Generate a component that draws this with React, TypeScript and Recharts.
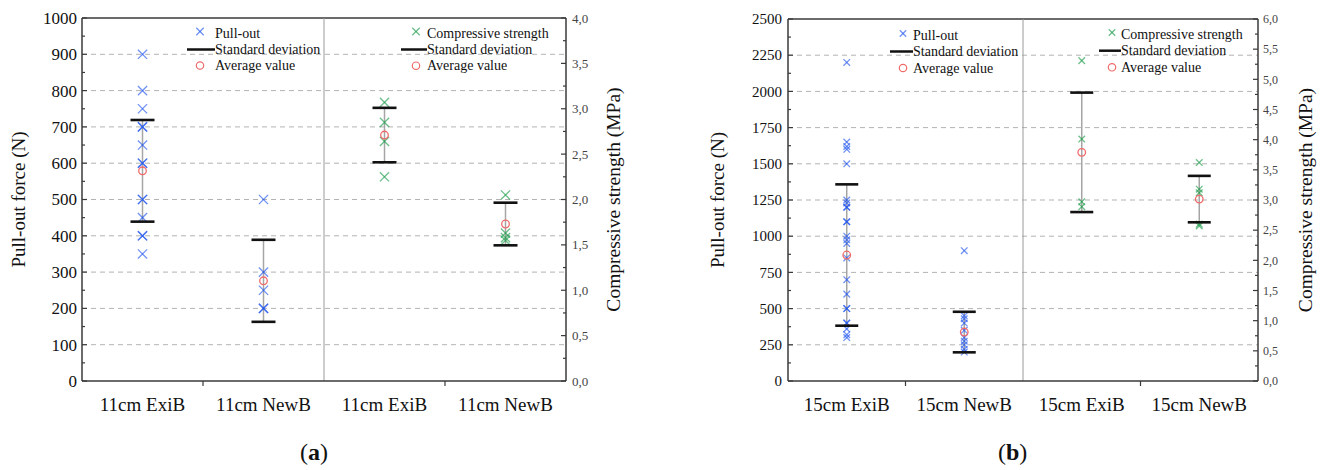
import React from "react";
import { ScatterChart, Scatter, XAxis, YAxis, ErrorBar, ReferenceLine, Legend } from "recharts";

const FONT = "'Liberation Serif', 'Times New Roman', Times, serif";
const BLUE = "#2457ee";
const GREEN = "#1f9d4c";
const RED = "#f06a6a";
const AXIS = { stroke: "#3a3a3a", strokeWidth: 1.5 };

// (a) 11 cm anchors
const cats11 = ["11cm ExiB", "11cm NewB", "11cm ExiB", "11cm NewB"];
const pullExiB11 = [900, 800, 750, 700, 700, 650, 600, 600, 500, 500, 450, 400, 400, 350];
const pullNewB11 = [500, 300, 250, 200, 200];
const compExiB11 = [3.07, 2.85, 2.64, 2.25];
const compNewB11 = [2.05, 1.63, 1.58, 1.55];
const pullAvg11 = [579, 276];
const pullSd11 = [140, 113];
const compAvg11 = [2.71, 1.73];
const compSd11 = [0.3, 0.235];
const forceTicks11 = [0, 100, 200, 300, 400, 500, 600, 700, 800, 900, 1000];
const mpaTicks11 = [0, 0.5, 1, 1.5, 2, 2.5, 3, 3.5, 4];

// (b) 15 cm anchors
const cats15 = ["15cm ExiB", "15cm NewB", "15cm ExiB", "15cm NewB"];
const pullExiB15 = [2200, 1650, 1620, 1600, 1500, 1250, 1230, 1200, 1200, 1100, 1100, 1000, 975, 950, 850, 700, 600, 500, 500, 400, 400, 360, 320, 300];
const pullNewB15 = [900, 450, 430, 400, 350, 300, 275, 250, 220, 200];
const compExiB15 = [5.31, 4.01, 2.97, 2.89];
const compNewB15 = [3.62, 3.18, 3.12, 2.6, 2.57];
const pullAvg15 = [870, 338];
const pullSd15 = [488, 140];
const compAvg15 = [3.79, 3.015];
const compSd15 = [0.99, 0.385];
const forceTicks15 = [0, 250, 500, 750, 1000, 1250, 1500, 1750, 2000, 2250, 2500];
const mpaTicks15 = [0, 0.5, 1, 1.5, 2, 2.5, 3, 3.5, 4, 4.5, 5, 5.5, 6];

const legendPull = ["Pull-out", "Standard deviation", "Average value"];
const legendComp = ["Compressive strength", "Standard deviation", "Average value"];

const withMinor = (major: number[]) =>
  major.flatMap((v, i) => (i === 0 ? [v] : [(v + major[i - 1]) / 2, v]));
const isMajor = (v: number, major: number[]) => major.some((m) => Math.abs(m - v) < 1e-6);

const serif = (size: number, color = "#111") => ({ fontFamily: FONT, fontSize: size, fill: color });

const Cross = ({ cx, cy, h, color }: any) => (
  <g stroke={color} strokeWidth={1.3} strokeOpacity={0.65}>
    <line x1={cx - h} y1={cy - h} x2={cx + h} y2={cy + h} />
    <line x1={cx - h} y1={cy + h} x2={cx + h} y2={cy - h} />
  </g>
);

type Cfg = {
  left: number;
  width: number;
  top: number;
  yLeftW: number;
  yRightW: number;
  leftTitleDx: number;
  rightTitleDx: number;
  leftTickFont: number;
  rightTickFont: number;
  leftGap: number;
  rightGap: number;
  mark: number;
  cap: number;
  legendMark: number;
  legends: { symX: number; textX: number; lineX: number; rows: number[] }[];
};

const cfgA: Cfg = {
  left: 0, width: 660, top: 18, yLeftW: 82, yRightW: 94,
  leftTitleDx: 18, rightTitleDx: 47, leftTickFont: 17, rightTickFont: 13,
  leftGap: 5, rightGap: 6,
  mark: 4.6, cap: 12, legendMark: 3.7,
  legends: [
    { symX: 200, textX: 215, lineX: 187, rows: [33, 49.5, 65.5] },
    { symX: 416, textX: 427, lineX: 401, rows: [33, 49.5, 65.7] },
  ],
};

const cfgB: Cfg = {
  left: 660, width: 663, top: 19, yLeftW: 128, yRightW: 65,
  leftTitleDx: 57, rightTitleDx: 47, leftTickFont: 15, rightTickFont: 12,
  leftGap: 6, rightGap: 5,
  mark: 3.3, cap: 11.5, legendMark: 3.2,
  legends: [
    { symX: 243, textX: 253, lineX: 230, rows: [35, 51.5, 68] },
    { symX: 452, textX: 461, lineX: 439, rows: [34, 50.7, 67.3] },
  ],
};

const LegendGroup = ({ g, labels, color, h }: any) => (
  <g>
    <Cross cx={g.symX} cy={g.rows[0] - 1.5} h={h} color={color} />
    <text x={g.textX} y={g.rows[0]} dy="0.33em" style={serif(14)}>{labels[0]}</text>
    <line x1={g.lineX} x2={g.textX} y1={g.rows[1]} y2={g.rows[1]} stroke="#111" strokeWidth={2.5} />
    <text x={g.textX} y={g.rows[1]} dy="0.33em" style={serif(14)}>{labels[1]}</text>
    <circle cx={g.symX} cy={g.rows[2]} r={3.7} fill="none" stroke={RED} strokeWidth={1.2} />
    <text x={g.textX} y={g.rows[2]} dy="0.33em" style={serif(14)}>{labels[2]}</text>
  </g>
);

function Panel({ cats, pull, comp, pullAvg, pullSd, compAvg, compSd, forceTicks, mpaTicks, cfg }: any) {
  const pullPts = pull.flatMap((vals: number[], i: number) => vals.map((v) => ({ x: i + 0.5, y: v })));
  const compPts = comp.flatMap((vals: number[], i: number) => vals.map((v) => ({ x: i + 2.5, y: v })));
  const pullMean = pullAvg.map((m: number, i: number) => ({ x: i + 0.5, y: m, sd: pullSd[i] }));
  const compMean = compAvg.map((m: number, i: number) => ({ x: i + 2.5, y: m, sd: compSd[i] }));
  const caps = (d: any[]) => d.flatMap((p) => [{ x: p.x, y: p.y + p.sd }, { x: p.x, y: p.y - p.sd }]);
  const fMax = forceTicks[forceTicks.length - 1];
  const mMax = mpaTicks[mpaTicks.length - 1];

  const crossShape = (color: string) => (p: any) => <Cross cx={p.cx} cy={p.cy} h={cfg.mark} color={color} />;
  const capShape = (p: any) => (
    <line x1={p.cx - cfg.cap} x2={p.cx + cfg.cap} y1={p.cy} y2={p.cy} stroke="#111" strokeWidth={2.6} />
  );
  const meanShape = (p: any) => <circle cx={p.cx} cy={p.cy} r={3.8} fill="none" stroke={RED} strokeWidth={1.3} />;

  return (
    <div style={{ position: "absolute", left: cfg.left, top: 0 }}>
      <ScatterChart width={cfg.width} height={470} margin={{ top: cfg.top, right: 0, bottom: 0, left: 0 }} style={{ fontFamily: FONT }}>
        <XAxis
          type="number"
          dataKey="x"
          domain={[0, 4]}
          ticks={[0.5, 1, 1.5, 2.5, 3, 3.5]}
          interval={0}
          height={89}
          tickLine={false}
          tickSize={0}
          tickMargin={0}
          axisLine={AXIS}
          tick={(p: any) => {
            const v = p.payload.value;
            if (Number.isInteger(v)) {
              return <line x1={p.x} x2={p.x} y1={p.y} y2={p.y + 5} stroke="#3a3a3a" strokeWidth={1.2} />;
            }
            return (
              <text x={p.x} y={p.y + 30} textAnchor="middle" style={serif(19)}>
                {cats[Math.floor(v)]}
              </text>
            );
          }}
        />
        <YAxis
          yAxisId="left"
          type="number"
          dataKey="y"
          domain={[0, fMax]}
          ticks={withMinor(forceTicks)}
          interval={0}
          width={cfg.yLeftW}
          tickLine={false}
          tickSize={0}
          tickMargin={0}
          axisLine={AXIS}
          tick={(p: any) => {
            const v = p.payload.value;
            const major = isMajor(v, forceTicks);
            return (
              <g>
                <line x1={p.x} x2={p.x + (major ? 5 : 3)} y1={p.y} y2={p.y} stroke="#3a3a3a" strokeWidth={1.2} />
                {major && (
                  <text x={p.x - cfg.leftGap} y={p.y} dy="0.35em" textAnchor="end" style={serif(cfg.leftTickFont)}>
                    {v}
                  </text>
                )}
              </g>
            );
          }}
          label={(p: any) => {
            const vb = p.viewBox || p;
            const cx = vb.x + cfg.leftTitleDx;
            const cy = vb.y + vb.height / 2;
            return (
              <text x={cx} y={cy} transform={`rotate(-90 ${cx} ${cy})`} textAnchor="middle" dy="0.35em" style={serif(19)}>
                Pull-out force (N)
              </text>
            );
          }}
        />
        <YAxis
          yAxisId="right"
          orientation="right"
          type="number"
          dataKey="y"
          domain={[0, mMax]}
          ticks={withMinor(mpaTicks)}
          interval={0}
          width={cfg.yRightW}
          tickLine={false}
          tickSize={0}
          tickMargin={0}
          axisLine={AXIS}
          tick={(p: any) => {
            const v = p.payload.value;
            const major = isMajor(v, mpaTicks);
            return (
              <g>
                <line x1={p.x} x2={p.x - (major ? 5 : 3)} y1={p.y} y2={p.y} stroke="#3a3a3a" strokeWidth={1.2} />
                {major && (
                  <text x={p.x + cfg.rightGap} y={p.y} dy="0.35em" textAnchor="start" style={serif(cfg.rightTickFont, "#444")}>
                    {v.toFixed(1).replace(".", ",")}
                  </text>
                )}
              </g>
            );
          }}
          label={(p: any) => {
            const vb = p.viewBox || p;
            const cx = vb.x + cfg.rightTitleDx;
            const cy = vb.y + vb.height / 2;
            return (
              <text x={cx} y={cy} transform={`rotate(-90 ${cx} ${cy})`} textAnchor="middle" dy="0.35em" style={serif(19.5)}>
                Compressive strength (MPa)
              </text>
            );
          }}
        />
        {forceTicks.slice(1, -1).map((v: number) => (
          <ReferenceLine key={v} yAxisId="left" y={v} stroke="#b3b3b3" strokeDasharray="5 4" />
        ))}
        <ReferenceLine yAxisId="left" y={fMax} stroke="#3a3a3a" strokeWidth={1.5} />
        <ReferenceLine yAxisId="left" x={2} stroke="#9a9a9a" strokeWidth={1} />

        <Scatter name="sd-pull" yAxisId="left" data={pullMean} shape={() => <g />} isAnimationActive={false}>
          <ErrorBar dataKey="sd" direction="y" width={0} stroke="#a5a5a5" strokeWidth={1.5} />
        </Scatter>
        <Scatter name="sd-comp" yAxisId="right" data={compMean} shape={() => <g />} isAnimationActive={false}>
          <ErrorBar dataKey="sd" direction="y" width={0} stroke="#a5a5a5" strokeWidth={1.5} />
        </Scatter>
        <Scatter name="Pull-out" yAxisId="left" data={pullPts} shape={crossShape(BLUE)} isAnimationActive={false} />
        <Scatter name="Compressive strength" yAxisId="right" data={compPts} shape={crossShape(GREEN)} isAnimationActive={false} />
        <Scatter name="caps-pull" yAxisId="left" data={caps(pullMean)} shape={capShape} isAnimationActive={false} />
        <Scatter name="caps-comp" yAxisId="right" data={caps(compMean)} shape={capShape} isAnimationActive={false} />
        <Scatter name="avg-pull" yAxisId="left" data={pullMean} shape={meanShape} isAnimationActive={false} />
        <Scatter name="avg-comp" yAxisId="right" data={compMean} shape={meanShape} isAnimationActive={false} />

        <Legend
          layout="horizontal"
          verticalAlign="middle"
          align="center"
          wrapperStyle={{ left: 0, top: 0, width: cfg.width, height: 80, pointerEvents: "none" }}
          content={() => (
            <svg width={cfg.width} height={80} style={{ display: "block" }}>
              <LegendGroup g={cfg.legends[0]} labels={legendPull} color={BLUE} h={cfg.legendMark} />
              <LegendGroup g={cfg.legends[1]} labels={legendComp} color={GREEN} h={cfg.legendMark} />
            </svg>
          )}
        />
      </ScatterChart>
    </div>
  );
}

export default function App() {
  return (
    <div style={{ position: "absolute", left: 0, top: 0, width: 1323, height: 470, background: "#fff", fontFamily: FONT }}>
      <Panel
        cats={cats11}
        pull={[pullExiB11, pullNewB11]}
        comp={[compExiB11, compNewB11]}
        pullAvg={pullAvg11}
        pullSd={pullSd11}
        compAvg={compAvg11}
        compSd={compSd11}
        forceTicks={forceTicks11}
        mpaTicks={mpaTicks11}
        cfg={cfgA}
      />
      <Panel
        cats={cats15}
        pull={[pullExiB15, pullNewB15]}
        comp={[compExiB15, compNewB15]}
        pullAvg={pullAvg15}
        pullSd={pullSd15}
        compAvg={compAvg15}
        compSd={compSd15}
        forceTicks={forceTicks15}
        mpaTicks={mpaTicks15}
        cfg={cfgB}
      />
      <div style={{ position: "absolute", left: 300, top: 438, fontSize: 24, lineHeight: "28px", color: "#111" }}>
        (<b>a</b>)
      </div>
      <div style={{ position: "absolute", left: 998, top: 438, fontSize: 24, lineHeight: "28px", color: "#111" }}>
        (<b>b</b>)
      </div>
    </div>
  );
}
